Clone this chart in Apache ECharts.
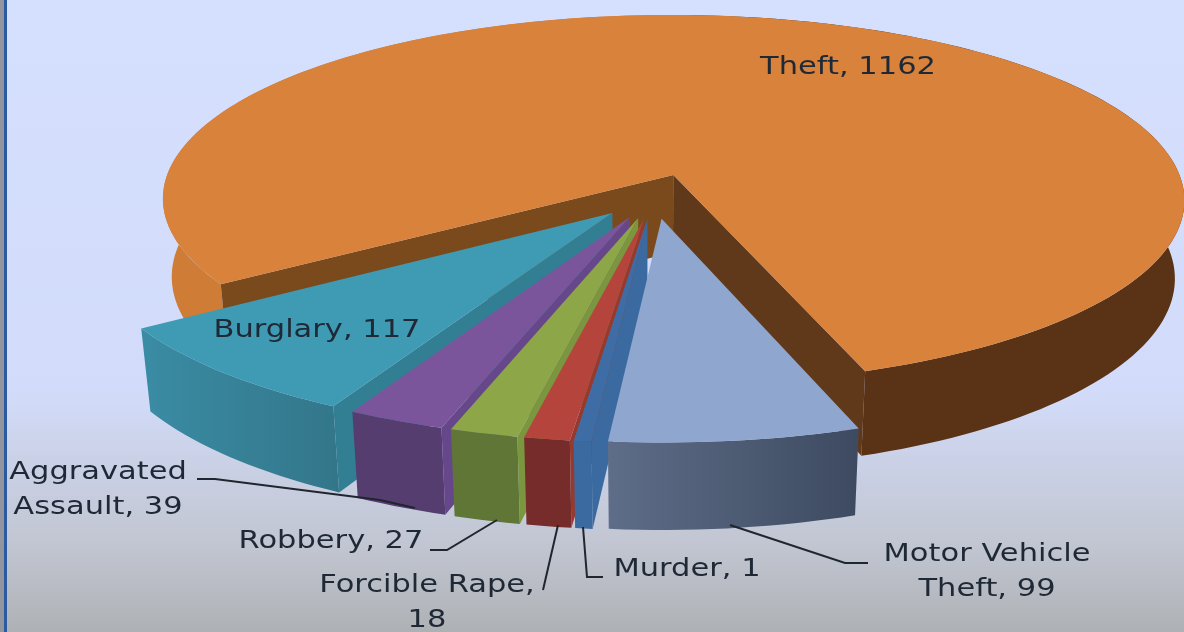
<!DOCTYPE html>
<html>
<head>
<meta charset="utf-8">
<title>Crime pie</title>
<style>
html, body { margin: 0; padding: 0; background: #d4defd; }
#main { width: 1184px; height: 632px; }
</style>
<script src="https://cdn.jsdelivr.net/npm/echarts@6/dist/echarts.min.js"></script>
</head>
<body>
<div id="main"></div>
<script>
// same order as the source sheet, slices run clockwise from the front
const categories = ['Murder', 'Forcible Rape', 'Robbery', 'Aggravated\nAssault', 'Burglary', 'Theft', 'Motor Vehicle\nTheft'];
const values = [1, 18, 27, 39, 117, 1162, 99];

// back to front, so nearer slices paint over farther ones
const paintOrder = [5, 4, 3, 2, 1, 0, 6];

const topColors = ['#3e6da6', '#b5443c', '#8da648', '#7b559c', '#3f9ab3', '#d8823b', '#8fa7cf'];
const wallColors = [
    ['#3a6aa0', '#3a6aa0'], ['#752c2a', '#752c2a'], ['#5f7636', '#5f7636'], ['#553d70', '#553d70'],
    ['#3a8ca4', '#33768a'], ['#cf7d36', '#5a3216'], ['#5e6d88', '#3d4a60']
];
const radialColors = ['#3a6aa0', '#96392f', '#7a963e', '#66478a', '#327f94', '#7a4a1d', '#60381a'];

// projection of the tilted pie
const CX = 654, CY = 196, RX = 514, RY = 187, PERSP = 0.135, THICK = 78, SHRINK = 0.982;
const EXPLODE = 0.12, START_ANGLE = 185.2, MIN_ANGLE = 1.7;

const labelLayout = [
    {x: 687, y: 569},
    {x: 427, y: 603, sep: ',\n'},
    {x: 331, y: 541},
    {x: 98, y: 490},
    {x: 317, y: 330},
    {x: 848, y: 67},
    {x: 987, y: 572}
];
const leaderLayout = [
    [[583, 527], [587, 577], [603, 577]],
    [[558, 525], [543, 590]],
    [[497, 520], [447, 550], [430, 550]],
    [[415, 508], [380, 500], [215, 479], [197, 479]],
    null,
    null,
    [[730, 525], [845, 563], [868, 563]]
];

// angles like a pie's minAngle: tiny slices get a floor, the rest share what is left
const total = values.reduce((a, b) => a + b, 0);
const floored = values.map(v => v / total * 360 < MIN_ANGLE);
const floorSum = floored.filter(f => f).length * MIN_ANGLE;
const freeTotal = values.reduce((a, v, i) => a + (floored[i] ? 0 : v), 0);
let cursor = START_ANGLE;
const slices = values.map((v, i) => {
    const span = floored[i] ? MIN_ANGLE : v / freeTotal * (360 - floorSum);
    const s = {from: cursor, to: cursor + span};
    cursor += span;
    const mid = (s.from + s.to) / 2 * Math.PI / 180;
    s.u0 = EXPLODE * Math.sin(mid);
    s.v0 = -EXPLODE * Math.cos(mid);
    return s;
});

function project(u, v, bottom) {
    const d = 1 - PERSP * v;
    const s = bottom ? SHRINK : 1;
    return [CX + s * RX * u / d, CY + (s * RY * v + (bottom ? THICK : 0)) / d];
}

function rim(s, deg, bottom) {
    const a = deg * Math.PI / 180;
    return project(s.u0 + Math.sin(a), s.v0 - Math.cos(a), bottom);
}

function arc(s, from, to, bottom) {
    const pts = [];
    const n = Math.max(2, Math.ceil((to - from) / 1.5));
    for (let i = 0; i <= n; i++) pts.push(rim(s, from + (to - from) * i / n, bottom));
    return pts;
}

function poly(points, fill) {
    return {type: 'polygon', shape: {points: points}, style: {fill: fill}};
}

function hGradient(a, b) {
    return new echarts.graphic.LinearGradient(0, 0, 1, 0, [{offset: 0, color: a}, {offset: 1, color: b}]);
}

// is the cut face at this angle turned towards the camera?
function radialVisible(s, deg, sign) {
    const a = deg * Math.PI / 180;
    const nu = sign * Math.cos(a), nv = sign * Math.sin(a);
    return (0 - s.u0) * nu + (1 / PERSP - s.v0) * nv > 0;
}

function radialWall(s, deg, fill) {
    return poly([project(s.u0, s.v0, false), rim(s, deg, false), rim(s, deg, true), project(s.u0, s.v0, true)], fill);
}

function renderSlice(params, api) {
    const i = api.value(0);
    const s = slices[i];
    const children = [];
    const wall = wallColors[i];
    if (s.to - s.from > 180) {
        // big slice wraps round the back, its two visible rims are lit differently
        const split = Math.ceil(s.from / 360) * 360;
        children.push(poly(arc(s, s.from, split, false).concat(arc(s, s.from, split, true).reverse()), wall[0]));
        children.push(poly(arc(s, split, s.to, false).concat(arc(s, split, s.to, true).reverse()), wall[1]));
    } else {
        children.push(poly(arc(s, s.from, s.to, false).concat(arc(s, s.from, s.to, true).reverse()), hGradient(wall[0], wall[1])));
    }
    if (radialVisible(s, s.from, -1)) children.push(radialWall(s, s.from, radialColors[i]));
    if (radialVisible(s, s.to, 1)) children.push(radialWall(s, s.to, i === 5 ? radialColors[6] : radialColors[i]));
    children.push(poly([project(s.u0, s.v0, false)].concat(arc(s, s.from, s.to, false)), topColors[i]));
    return {type: 'group', children: children};
}

function renderLabel(params, api) {
    const i = api.value(0);
    const pos = labelLayout[i];
    const children = [{
        type: 'text',
        x: pos.x,
        y: pos.y,
        scaleX: 1.22,
        style: {
            text: categories[i] + (pos.sep || ', ') + values[i],
            font: '25px "DejaVu Sans"',
            lineHeight: 35,
            align: 'center',
            verticalAlign: 'middle',
            fill: '#1f2936'
        }
    }];
    if (leaderLayout[i]) {
        children.push({
            type: 'polyline',
            shape: {points: leaderLayout[i]},
            style: {stroke: '#20262e', lineWidth: 2, fill: 'none'}
        });
    }
    return {type: 'group', children: children};
}

const paintData = paintOrder.map(i => [i]);

const chart = echarts.init(document.getElementById('main'));
chart.setOption({
    animation: false,
    backgroundColor: new echarts.graphic.LinearGradient(0, 0, 0, 1, [
        {offset: 0, color: '#d5dffe'},
        {offset: 0.62, color: '#d2dcfa'},
        {offset: 0.72, color: '#cbd2e8'},
        {offset: 0.86, color: '#c2c6d2'},
        {offset: 1, color: '#aeb1b4'}
    ]),
    graphic: [
        {type: 'rect', shape: {x: 0, y: 0, width: 4, height: 632}, style: {fill: '#92959f'}},
        {type: 'rect', shape: {x: 4, y: 0, width: 3, height: 632}, style: {fill: '#2c5a9e'}}
    ],
    series: [
        {type: 'custom', coordinateSystem: 'none', silent: true, data: paintData, renderItem: renderSlice},
        {type: 'custom', coordinateSystem: 'none', silent: true, data: paintData, renderItem: renderLabel, z: 5}
    ]
});
</script>
</body>
</html>
